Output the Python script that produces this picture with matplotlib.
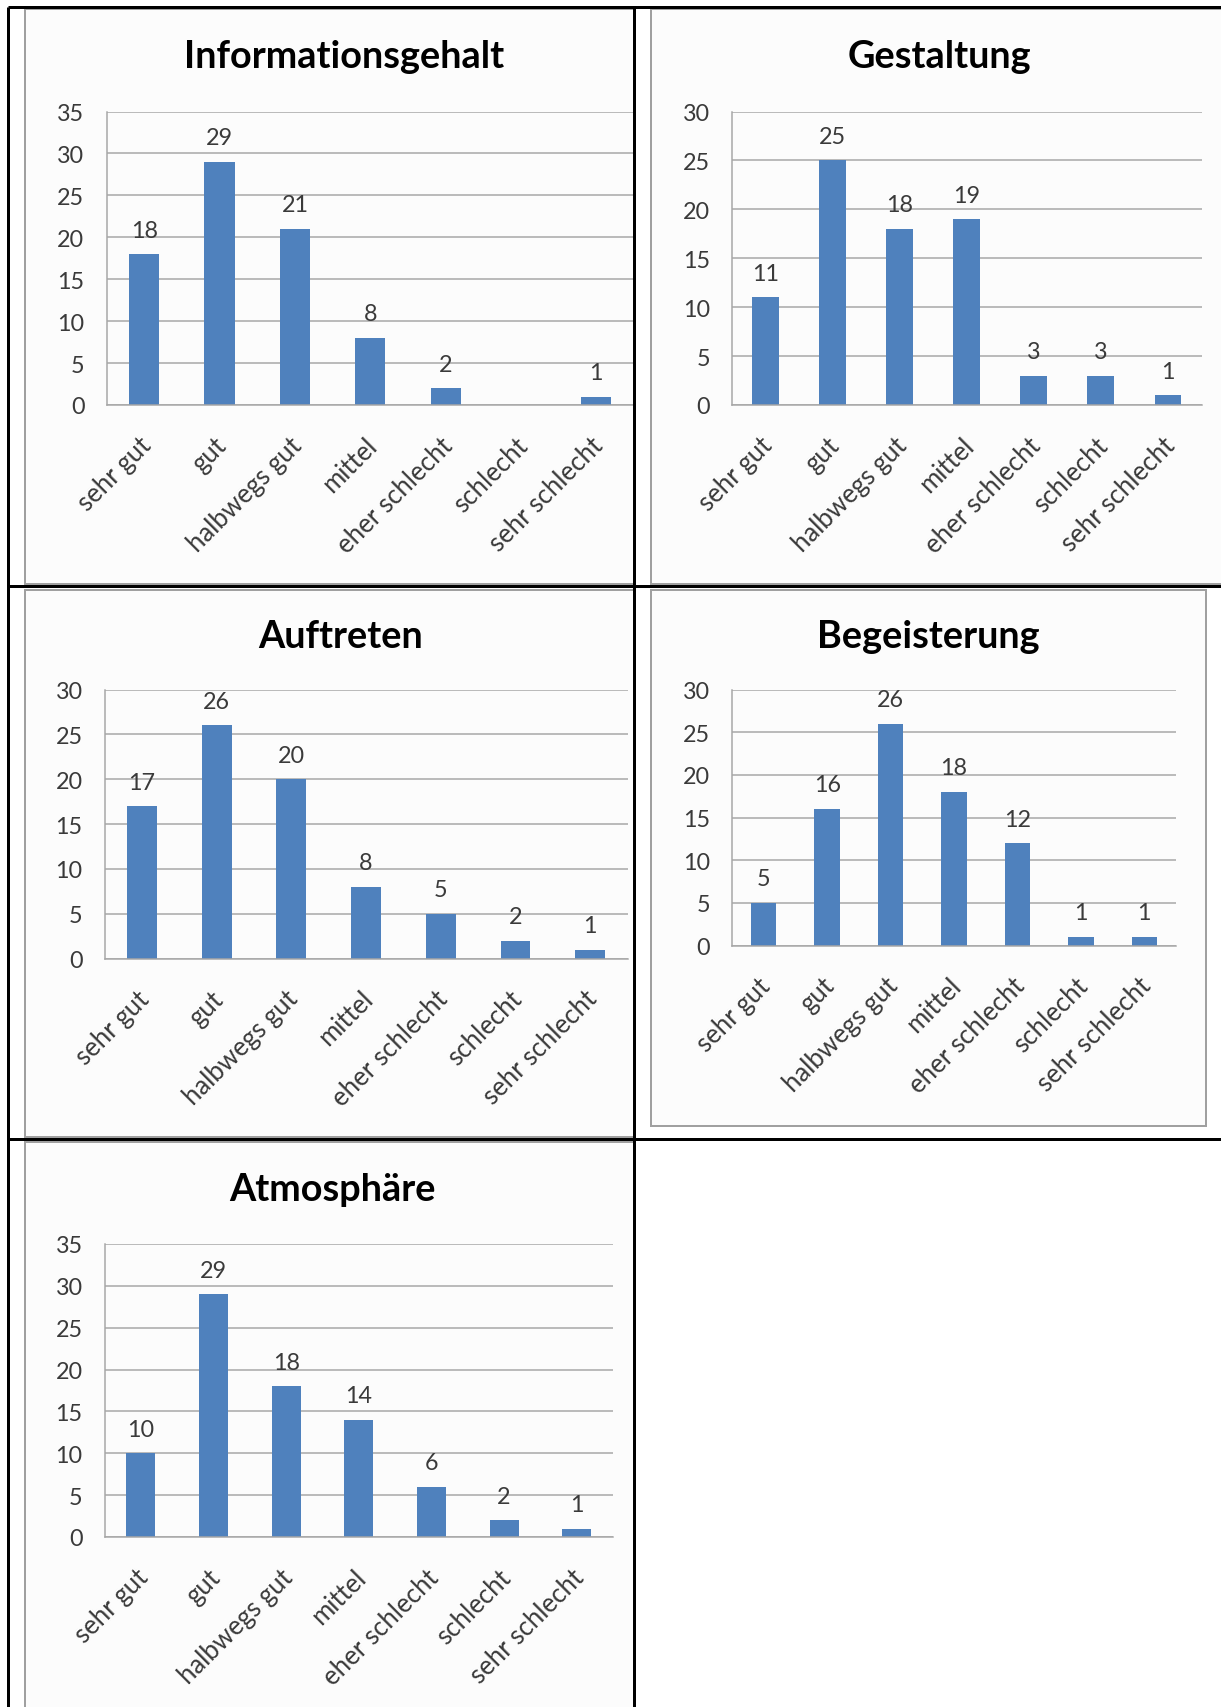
import matplotlib
matplotlib.use("Agg")
import matplotlib.pyplot as plt
from matplotlib.patches import Rectangle
from matplotlib.transforms import ScaledTranslation

# ---- data -------------------------------------------------------------
categories = ["sehr gut", "gut", "halbwegs gut", "mittel",
              "eher schlecht", "schlecht", "sehr schlecht"]

informationsgehalt = [18, 29, 21, 8, 2, 0, 1]
gestaltung = [11, 25, 18, 19, 3, 3, 1]
auftreten = [17, 26, 20, 8, 5, 2, 1]
begeisterung = [5, 16, 26, 18, 12, 1, 1]
atmosphaere = [10, 29, 18, 14, 6, 2, 1]

titles = ["Informationsgehalt", "Gestaltung", "Auftreten",
          "Begeisterung", "Atmosphäre"]
series = [informationsgehalt, gestaltung, auftreten, begeisterung, atmosphaere]
y_max = [35, 30, 30, 30, 35]

# ---- page geometry (pixels) -------------------------------------------
W, H = 1221, 1708
DPI = 100
plt.rcParams["font.family"] = ["Lato", "DejaVu Sans"]

fig = plt.figure(figsize=(W / DPI, H / DPI), dpi=DPI)
fig.patch.set_facecolor("white")

# plot rectangles: left, top, right, bottom
plot_boxes = [
    (106.5, 112.5, 634.0, 406.0),
    (732.0, 112.5, 1201.5, 406.0),
    (104.6, 690.5, 627.5, 959.6),
    (732.0, 690.5, 1176.0, 946.5),
    (104.6, 1245.0, 613.0, 1538.0),
]
# title centre x and baseline y
title_pos = [(344, 67.5), (939, 67.5), (341, 648), (928, 648), (332, 1201.5)]
# chart frames and the table cells that clip them
frames = [
    (25, 10, 700, 585),
    (651, 10, 1300, 585),
    (25, 591, 700, 1138),
    (651, 591, 1206, 1127),
    (25, 1143, 700, 1760),
]
cells = [
    (8, 8, 634, 587),
    (634, 8, 1221, 587),
    (8, 587, 634, 1140),
    (634, 587, 1221, 1140),
    (8, 1140, 634, 1708),
]

BAR = "#4f81bd"
GRID = "#a6a6a6"
TXT = "#3a3a3a"
PX = 72.0 / DPI  # points per pixel

# background layer: chart frames
bg = fig.add_axes([0, 0, 1, 1], zorder=-5)
bg.set_xlim(0, W)
bg.set_ylim(H, 0)
bg.axis("off")
for (fx0, fy0, fx1, fy1), (cx0, cy0, cx1, cy1) in zip(frames, cells):
    clip = Rectangle((cx0, cy0), cx1 - cx0, cy1 - cy0, transform=bg.transData)
    fr = Rectangle((fx0, fy0), fx1 - fx0, fy1 - fy0, facecolor="#fcfcfc",
                   edgecolor="#a0a0a0", linewidth=2 * PX)
    bg.add_patch(fr)
    fr.set_clip_path(clip)

# ---- charts -----------------------------------------------------------
for vals, title, ymax, box, tpos in zip(series, titles, y_max, plot_boxes, title_pos):
    l, t, r, b = box
    ax = fig.add_axes([l / W, 1 - b / H, (r - l) / W, (b - t) / H])
    ax.set_facecolor("none")
    x = list(range(len(categories)))
    ax.bar(x, vals, width=0.4, color=BAR, zorder=3)
    ax.set_xlim(-0.5, len(categories) - 0.5)
    ax.set_ylim(0, ymax)
    ax.set_yticks(range(0, ymax + 1, 5))
    ax.yaxis.grid(True, color=GRID, linewidth=1.5 * PX, zorder=1)
    ax.set_axisbelow(True)
    for s in ("top", "right"):
        ax.spines[s].set_visible(False)
    for s in ("left", "bottom"):
        ax.spines[s].set_color(GRID)
        ax.spines[s].set_linewidth(1.5 * PX)
        ax.spines[s].set_zorder(4)
    ax.tick_params(axis="y", length=0, pad=22 * PX, labelsize=16.8, labelcolor=TXT)
    ax.tick_params(axis="x", length=0, pad=36 * PX, labelsize=18.5, labelcolor=TXT)
    ax.set_xticks(x)
    ax.set_xticklabels(categories, rotation=45, ha="right", va="center",
                       rotation_mode="anchor")
    shift = ScaledTranslation(3.0 / DPI, 0, fig.dpi_scale_trans)
    for lab in ax.get_xticklabels():
        lab.set_transform(lab.get_transform() + shift)

    for xi, v in zip(x, vals):
        if v:
            ax.annotate(str(v), (xi, v), xytext=(0, 17.5 * PX),
                        textcoords="offset points", ha="center", va="baseline",
                        fontsize=16.8, color=TXT)

    fig.text(tpos[0] / W, 1 - tpos[1] / H, title, ha="center", va="baseline",
             fontsize=27.3, fontweight="bold", color="black")

# ---- table rules ------------------------------------------------------
fg = fig.add_axes([0, 0, 1, 1], zorder=10)
fg.set_xlim(0, W)
fg.set_ylim(H, 0)
fg.axis("off")
fg.set_facecolor("none")
lw = 3 * PX
fg.plot([8, W], [8, 8], color="black", lw=lw, solid_capstyle="butt")
fg.plot([8, W], [587, 587], color="black", lw=lw, solid_capstyle="butt")
fg.plot([8, W], [1140, 1140], color="black", lw=lw, solid_capstyle="butt")
fg.plot([8, 8], [8, H], color="black", lw=lw, solid_capstyle="butt")
fg.plot([634, 634], [8, H], color="black", lw=lw, solid_capstyle="butt")

fig.savefig("out.png", dpi=DPI)
